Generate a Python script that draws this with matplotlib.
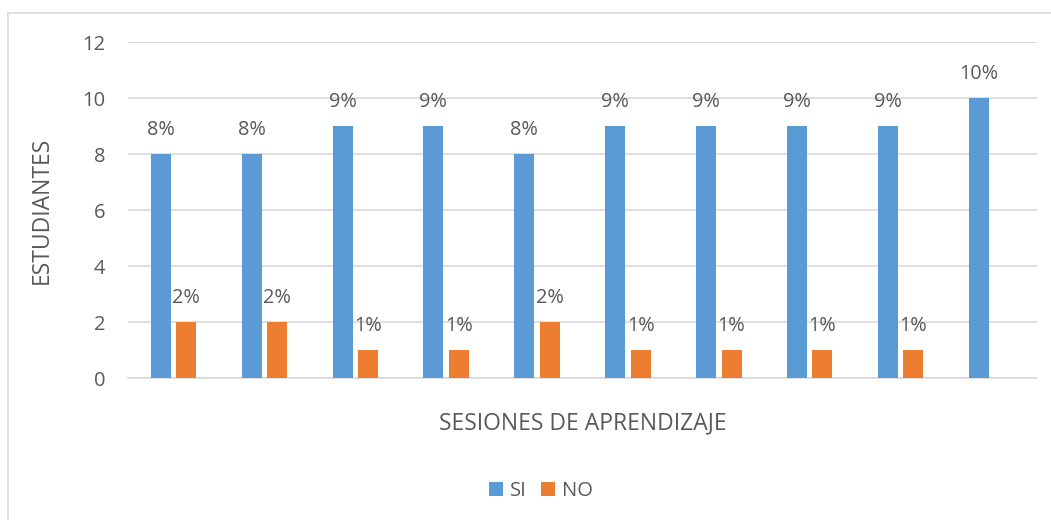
import matplotlib
matplotlib.use("Agg")
import matplotlib.pyplot as plt
from matplotlib.lines import Line2D
import numpy as np

# values
sessions = np.arange(10)
si_values = [8, 8, 9, 9, 8, 9, 9, 9, 9, 10]
no_values = [2, 2, 1, 1, 2, 1, 1, 1, 1, 0]
series_names = ["SI", "NO"]
y_ticks = [0, 2, 4, 6, 8, 10, 12]

BLUE = "#5B9BD5"
ORANGE = "#ED7D31"
TEXT = "#595959"
GRID = "#D9D9D9"

plt.rcParams["font.family"] = ["Open Sans", "DejaVu Sans"]

fig = plt.figure(figsize=(10.51, 5.2), dpi=100)
ax = fig.add_axes([128 / 1051, 1 - 378 / 520, (1037 - 128) / 1051, (378 - 42) / 520])

width = 0.22
offset = 0.14
bars_si = ax.bar(sessions - offset, si_values, width, color=BLUE, label=series_names[0], zorder=3)
bars_no = ax.bar(sessions + offset, no_values, width, color=ORANGE, label=series_names[1], zorder=3)

for bars, values in ((bars_si, si_values), (bars_no, no_values)):
    for bar, v in zip(bars, values):
        if v == 0:
            continue
        ax.annotate(f"{v}%", xy=(bar.get_x() + bar.get_width() / 2, v),
                    xytext=(0, 17.5), textcoords="offset points",
                    ha="center", va="center", fontsize=14.3, color=TEXT)

ax.set_xlim(-0.5, 9.5)
ax.set_ylim(0, 12)
ax.set_yticks(y_ticks)
ax.set_xticks([])
ax.tick_params(axis="y", length=0, labelsize=14.5, labelcolor=TEXT, pad=16.5)
ax.yaxis.grid(True, color=GRID, linewidth=1.2, zorder=0)
for spine in ["top", "right", "left"]:
    ax.spines[spine].set_visible(False)
ax.spines["bottom"].set_color(GRID)
ax.spines["bottom"].set_linewidth(1.2)

ax.set_ylabel("ESTUDIANTES", fontsize=16.5, color=TEXT, labelpad=20)
ax.set_xlabel("SESIONES DE APRENDIZAJE", fontsize=16.5, color=TEXT, labelpad=24)

fig.legend(handles=[bars_si, bars_no], labels=series_names, loc="center",
           bbox_to_anchor=(541 / 1051, 1 - 491 / 520), ncol=2, frameon=False,
           fontsize=14.5, labelcolor=TEXT, handlelength=0.7, handleheight=0.7,
           handletextpad=0.35, columnspacing=0.7)

# chart frame (only top and left edges fall inside the image)
fig.add_artist(Line2D([8 / 1051, 1.0], [1 - 12.5 / 520] * 2, transform=fig.transFigure,
                      color=GRID, linewidth=1.2))
fig.add_artist(Line2D([8 / 1051] * 2, [0.0, 1 - 12.5 / 520], transform=fig.transFigure,
                      color=GRID, linewidth=1.2))

fig.savefig("out.png", dpi=100)
